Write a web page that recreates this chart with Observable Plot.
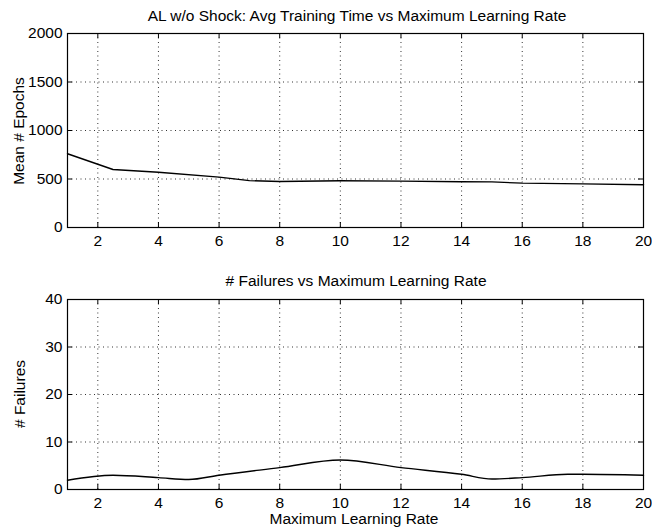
<!DOCTYPE html>
<html>
<head>
<meta charset="utf-8">
<script src="https://cdn.jsdelivr.net/npm/d3@7"></script>
<script src="https://cdn.jsdelivr.net/npm/@observablehq/plot@0.6"></script>
<style>
  html, body { margin: 0; padding: 0; background: #fff; }
  #wrap { position: relative; width: 652px; height: 531px; background: #fff; overflow: hidden;
          font-family: "Liberation Sans", Arial, Helvetica, sans-serif; color: #000; }
  .title, .xlab { position: absolute; font-size: 15.5px; white-space: nowrap; transform: translate(-50%, -50%); }
  .ylab { position: absolute; font-size: 15.5px; white-space: nowrap; transform: translate(-50%, -50%) rotate(-90deg); }
  .panel { position: absolute; left: 0; }
</style>
</head>
<body>
<div id="wrap">
  <div class="title" id="t1" style="left:357px; top:16px;"></div>
  <div class="title" id="t2" style="left:356px; top:281px;"></div>
  <div class="ylab" id="yl1" style="left:19px; top:131px;"></div>
  <div class="ylab" id="yl2" style="left:20px; top:394px;"></div>
  <div class="xlab" id="xl" style="left:354px; top:519px;"></div>
  <div class="panel" id="p1" style="top:0px;"></div>
  <div class="panel" id="p2" style="top:258px;"></div>
</div>
<script>
// ---- data ----
const titleTop = "AL w/o Shock: Avg Training Time vs Maximum Learning Rate";
const titleBottom = "# Failures vs Maximum Learning Rate";
const yLabelTop = "Mean # Epochs";
const yLabelBottom = "# Failures";
const xLabel = "Maximum Learning Rate";

const xTicks = [2, 4, 6, 8, 10, 12, 14, 16, 18, 20];
const yTicksTop = [0, 500, 1000, 1500, 2000];
const yTicksBottom = [0, 10, 20, 30, 40];

const epochRate = [1, 2.5, 4, 6, 7, 8, 10, 12, 14, 15, 16, 18, 20];
const epochMean = [760, 598, 570, 519, 483, 474, 482, 478, 471, 470, 457, 450, 440];

const failRate = [1, 2.5, 4, 5, 6, 8, 10, 12, 14, 15, 16, 17.5, 18, 20];
const failCount = [1.96, 3.0, 2.5, 2.1, 3.0, 4.6, 6.2, 4.6, 3.2, 2.2, 2.5, 3.2, 3.2, 3.0];

// ---- build ----
document.getElementById("t1").textContent = titleTop;
document.getElementById("t2").textContent = titleBottom;
document.getElementById("yl1").textContent = yLabelTop;
document.getElementById("yl2").textContent = yLabelBottom;
document.getElementById("xl").textContent = xLabel;

const font = "'Liberation Sans', Arial, Helvetica, sans-serif";

function panel({height, marginTop, marginBottom, yDomain, yTicks, xs, ys, curve}) {
  const width = 652, marginLeft = 67, marginRight = 9;
  const iw = width - marginLeft - marginRight;
  const ih = height - marginTop - marginBottom;
  const data = xs.map((x, i) => ({x, y: ys[i]}));
  const dotted = {stroke: "#000", strokeOpacity: 0.8, strokeDasharray: "1,3.5", strokeWidth: 1};
  return Plot.plot({
    width, height, marginTop, marginBottom, marginLeft, marginRight,
    style: {fontFamily: font, fontSize: "15.5px", color: "#000", background: "transparent", overflow: "visible"},
    x: {domain: [1, 20], ticks: xTicks},
    y: {domain: yDomain, ticks: yTicks},
    marks: [
      Plot.gridX(xTicks, dotted),
      Plot.gridY(yTicks, dotted),
      Plot.axisX(xTicks, {tickSize: 0, tickPadding: 7, label: null, fontSize: 15.5, tickFormat: d => String(d)}),
      Plot.axisY(yTicks, {tickSize: 0, tickPadding: 5, label: null, fontSize: 15.5, tickFormat: d => String(d)}),
      Plot.tickX(xTicks, {x: d => d, insetTop: ih - 5, stroke: "#000"}),
      Plot.tickX(xTicks, {x: d => d, insetBottom: ih - 5, stroke: "#000"}),
      Plot.tickY(yTicks, {y: d => d, insetRight: iw - 5, stroke: "#000"}),
      Plot.tickY(yTicks, {y: d => d, insetLeft: iw - 5, stroke: "#000"}),
      Plot.line(data, {x: "x", y: "y", stroke: "#000", strokeWidth: 1.4, curve}),
      Plot.frame({stroke: "#000", strokeWidth: 1.2})
    ]
  });
}

document.getElementById("p1").appendChild(panel({
  height: 255, marginTop: 33, marginBottom: 28,
  yDomain: [0, 2000], yTicks: yTicksTop,
  xs: epochRate, ys: epochMean, curve: "linear"
}));
document.getElementById("p2").appendChild(panel({
  height: 273, marginTop: 41, marginBottom: 42,
  yDomain: [0, 40], yTicks: yTicksBottom,
  xs: failRate, ys: failCount, curve: "monotone-x"
}));
</script>
</body>
</html>
